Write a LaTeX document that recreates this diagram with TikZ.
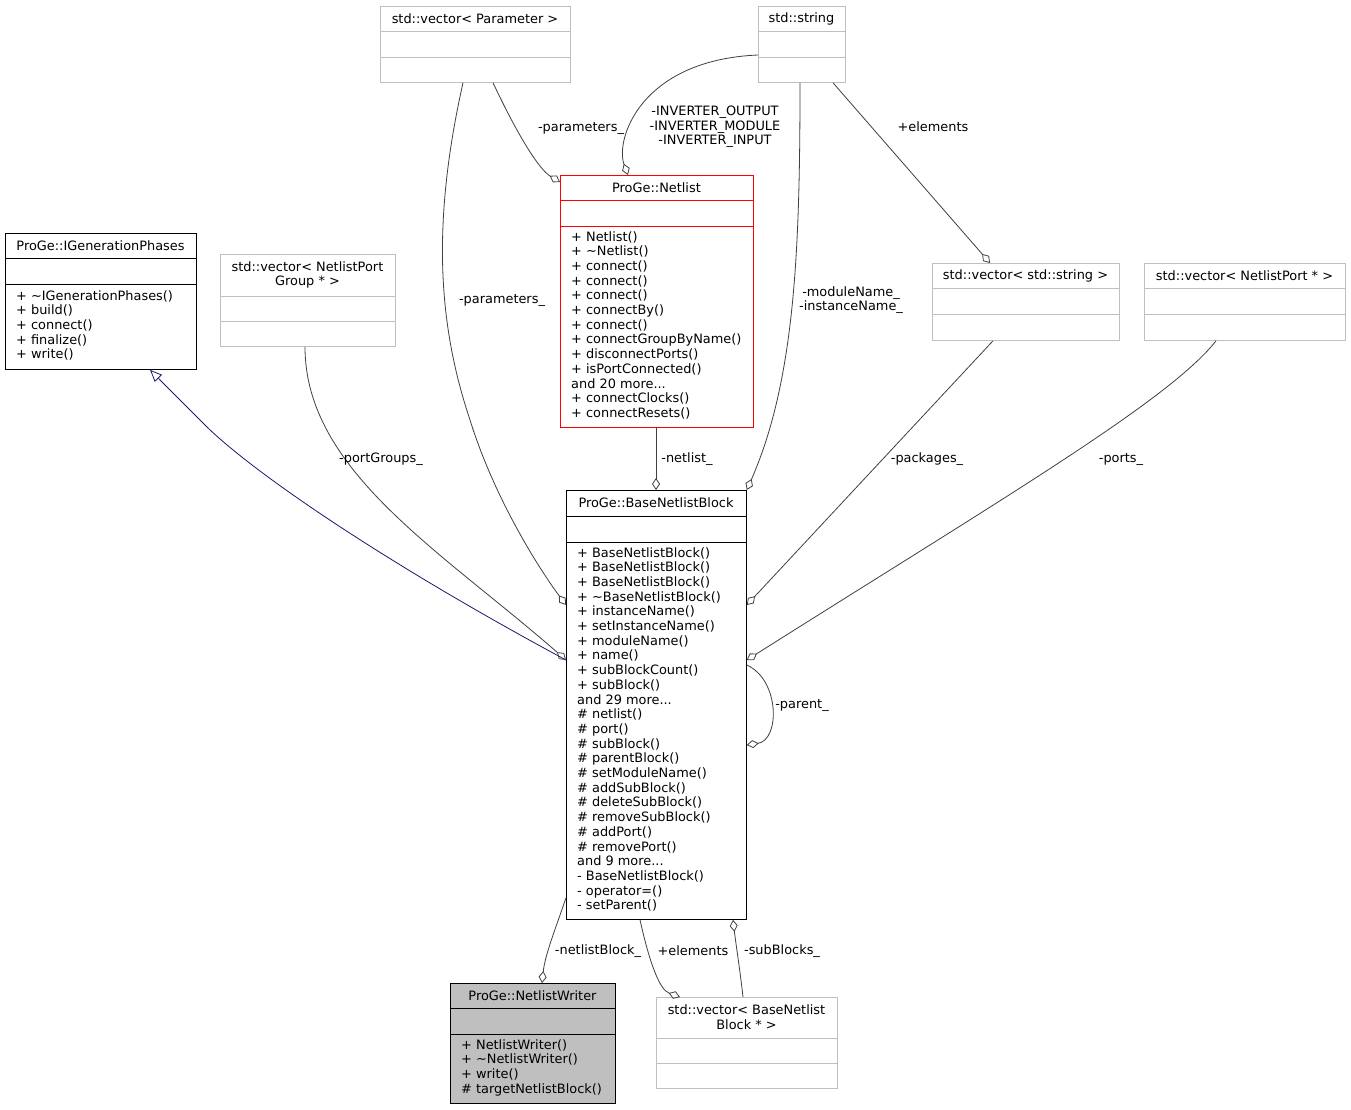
\documentclass[tikz,border=0pt]{standalone}
\usepackage{fontspec}
\setmainfont{DejaVu Sans}
\usetikzlibrary{arrows.meta, calc}

\definecolor{boxgray}{RGB}{191,191,191}
\definecolor{writerfill}{RGB}{191,191,191}
\definecolor{edgegray}{RGB}{64,64,64}
\definecolor{navy}{RGB}{25,25,112}

\tikzset{
  txt/.style={font=\fontsize{12.9}{14.7}\selectfont, inner sep=0pt},
  classbox/.style={draw, line width=0.8pt, inner sep=0pt, anchor=north west},
  plainbox/.style={classbox, draw=boxgray},
  keybox/.style={classbox, draw=black},
  netbox/.style={classbox, draw=red},
  writerbox/.style={classbox, draw=black, fill=writerfill},
  member/.style={txt, align=left, anchor=north west},
  usage/.style={draw=edgegray, line width=0.8pt,
    -{Diamond[open, length=12pt, width=8pt]}},
  inherit/.style={draw=navy, line width=0.8pt,
    -{Triangle[open, length=12pt, width=10pt]}},
  lbl/.style={txt}
}

% name, style, left, top, right, bottom, divider 1, divider 2, title
\newcommand{\umlclass}[9]{%
  \node[#2, minimum width={(#5-#3)*1pt}, minimum height={(#6-#4)*1pt}] (#1) at (#3,#4) {};
  \draw[#2] (#3,#7) -- (#5,#7) (#3,#8) -- (#5,#8);
  \node[txt, align=center] (#1-title) at ({(#3+#5)/2},{(#4+#7)/2}) {#9};
}

\begin{document}
\begin{tikzpicture}[x=1pt, y=-1pt]
    \useasboundingbox[fill=white] (0,0) rectangle (1351,1109);

    % Classes
    \umlclass{par}{plainbox}{380}{6}{570}{82}{31}{57}{std::vector< Parameter >}
    \umlclass{str}{plainbox}{758}{6}{845}{82}{31}{57}{std::string}
    \umlclass{net}{netbox}{560}{175}{753}{427}{200}{226}{ProGe::Netlist}
    \umlclass{gen}{keybox}{5}{233}{196}{369}{258}{284}{ProGe::IGenerationPhases}
    \umlclass{grp}{plainbox}{220}{254}{395}{346}{296}{321}{std::vector< NetlistPort\\Group * >}
    \umlclass{strs}{plainbox}{932}{263}{1119}{340}{288}{314}{std::vector< std::string >}
    \umlclass{ports}{plainbox}{1144}{263}{1345}{340}{288}{314}{std::vector< NetlistPort * >}
    \umlclass{bnb}{keybox}{566}{490}{746}{919}{516}{542}{ProGe::BaseNetlistBlock}
    \umlclass{wri}{writerbox}{450}{983}{615}{1103}{1008}{1034}{ProGe::NetlistWriter}
    \umlclass{blks}{plainbox}{656}{997}{837}{1088}{1038}{1063}{std::vector< BaseNetlist\\Block * >}

    % Members
    \node[member] (net-ops) at (571,231) {+ Netlist()\\+ \textasciitilde Netlist()\\+ connect()\\+ connect()\\+ connect()\\+ connectBy()\\+ connect()\\+ connectGroupByName()\\+ disconnectPorts()\\+ isPortConnected()\\and 20 more...\\+ connectClocks()\\+ connectResets()};
    \node[member] (gen-ops) at (16,290) {+ \textasciitilde IGenerationPhases()\\+ build()\\+ connect()\\+ finalize()\\+ write()};
    \node[member] (bnb-ops) at (577,547) {+ BaseNetlistBlock()\\+ BaseNetlistBlock()\\+ BaseNetlistBlock()\\+ \textasciitilde BaseNetlistBlock()\\+ instanceName()\\+ setInstanceName()\\+ moduleName()\\+ name()\\+ subBlockCount()\\+ subBlock()\\and 29 more...\\\# netlist()\\\# port()\\\# subBlock()\\\# parentBlock()\\\# setModuleName()\\\# addSubBlock()\\\# deleteSubBlock()\\\# removeSubBlock()\\\# addPort()\\\# removePort()\\and 9 more...\\- BaseNetlistBlock()\\- operator=()\\- setParent()};
    \node[member] (wri-ops) at (461,1039) {+ NetlistWriter()\\+ \textasciitilde NetlistWriter()\\+ write()\\\# targetNetlistBlock()};

    % Inheritance
    \draw[inherit] ($(bnb.north west)+(0,170)$) .. controls (380,560) and (250,470) .. (205,425)
        .. controls (185,405) and (165,385) .. ($(gen.south west)+(145,0)$);

    % Aggregations
    \draw[usage] (par.south -| 463,0) .. controls (430,230) and (440,330) .. (470,420)
        .. controls (495,500) and (540,570) .. ($(bnb.north west)+(0,115)$);
    \draw[usage] (par.south -| 493,0) .. controls (520,140) and (540,170) .. ($(net.north west)+(0,7)$);
    \draw[usage] (str.west |- 0,55) .. controls (640,60) and (615,140) .. ($(net.north west)+(68,0)$);
    \draw[usage] (str.south -| 800,0) .. controls (800,250) and (795,380) .. ($(bnb.north east)+(0,0)$);
    \draw[usage] (str.south -| 833,0) -- ($(strs.north west)+(58,0)$);
    \draw[usage] (grp.south -| 305,0) .. controls (305,470) and (440,550) .. ($(bnb.north west)+(0,170)$);
    \draw[usage] (net.south -| 656,0) -- (bnb.north -| 656,0);
    \draw[usage] (strs.south -| 993,0) -- ($(bnb.north east)+(0,115)$);
    \draw[usage] (ports.south -| 1216,0) .. controls (1170,400) and (1000,500) .. ($(bnb.north east)+(0,170)$);
    \draw[usage] ($(bnb.north east)+(0,175)$) .. controls (780,680) and (780,740) .. ($(bnb.north east)+(0,255)$);
    \draw[usage] ($(bnb.south west)+(0,-22)$) .. controls (555,930) and (545,955) .. ($(wri.north west)+(92,0)$);
    \draw[usage] (bnb.south -| 640,0) .. controls (650,965) and (660,990) .. ($(blks.north west)+(24,0)$);
    \draw[usage] ($(blks.north west)+(87,0)$) .. controls (740,970) and (736,945) .. (bnb.south -| 733,0);

    % Edge labels
    \node[lbl] (l-par1) at (502,300) {-parameters\_};
    \node[lbl] (l-par2) at (581,128) {-parameters\_};
    \node[lbl, align=center] (l-inv) at (715,127) {-INVERTER\_OUTPUT\\-INVERTER\_MODULE\\-INVERTER\_INPUT};
    \node[lbl, align=center] (l-mod) at (851,300) {-moduleName\_\\-instanceName\_};
    \node[lbl] (l-el1) at (933,127) {+elements};
    \node[lbl] (l-grp) at (381,459) {-portGroups\_};
    \node[lbl] (l-net) at (687,459) {-netlist\_};
    \node[lbl] (l-pkg) at (927,459) {-packages\_};
    \node[lbl] (l-port) at (1121,459) {-ports\_};
    \node[lbl] (l-parent) at (802,705) {-parent\_};
    \node[lbl] (l-nb) at (598,951) {-netlistBlock\_};
    \node[lbl] (l-el2) at (693,951) {+elements};
    \node[lbl] (l-sub) at (782,951) {-subBlocks\_};
\end{tikzpicture}
\end{document}
